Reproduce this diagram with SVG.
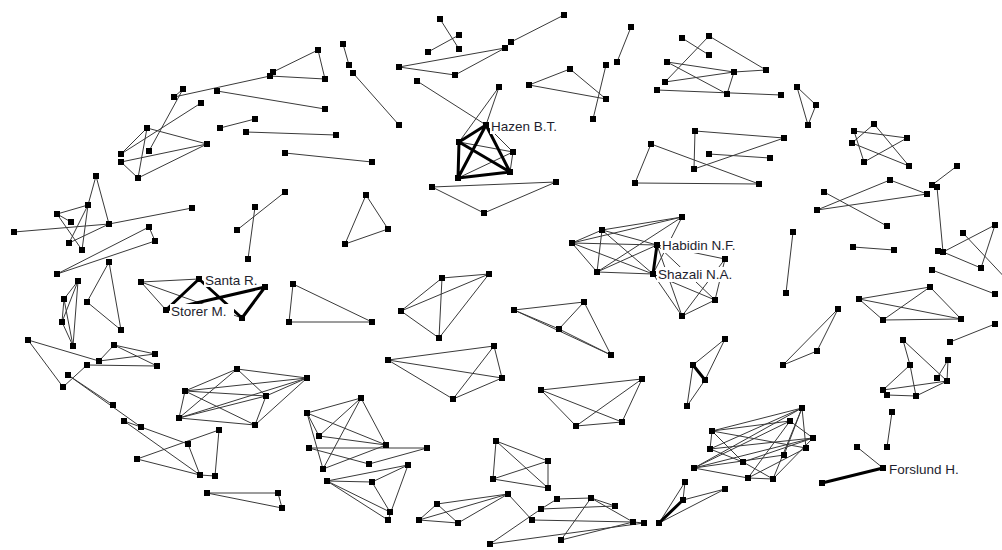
<svg xmlns="http://www.w3.org/2000/svg" width="1002" height="550" viewBox="0 0 1002 550">
<style>
.e{stroke:#3a3a3a;stroke-width:1;fill:none}
.t{stroke:#000;stroke-width:3;fill:none}
.n rect{fill:#000}
.n rect.lb{fill:#fff}
.tx{font-family:"Liberation Sans",Arial,sans-serif;font-size:13.5px;fill:#1e1e2e}
</style>
<rect width="1002" height="550" fill="#fff"/>
<g id="connectors">
<path class="e" d="M174 97L270 76M183 89L174 97M217 91L325 109M183 89L149 151M201 103L121 154M147 128L207 144M147 128L121 154M147 128L138 178M121 162L207 144M138 178L207 144M121 162L138 178M220 128L255 119M246 132L336 135"/>
<path class="e" d="M318 50L273 72M318 50L325 79M270 76L325 79M285 153L372 162M343 44L349 65M353 73L399 125M440 19L459 49M428 52L459 35M399 67L505 48M399 67L455 75M455 75L505 48M417 81L486 125M499 87L459 142M499 87L486 125M486 125L513 152M459 142L513 152M513 152L510 172M458 178L513 152"/>
<path class="e" d="M432 187L556 182M432 187L484 213M484 213L556 182M564 15L511 42M529 85L570 69M570 69L606 99M529 85L606 99M606 65L593 119M631 27L617 62M682 38L709 55M709 36L665 82M709 36L766 70M667 62L734 72M667 62L727 94M665 82L734 72M657 90L781 95M727 94L734 72M734 72L766 70M797 87L816 105M797 87L808 125M816 105L808 125M695 131L694 169M695 131L784 138M694 169L784 138M709 154L770 158M651 144L635 183M651 144L759 184M635 183L759 184"/>
<path class="e" d="M874 124L852 143M874 124L909 166M854 131L907 138M854 131L864 162M852 143L909 166M864 162L907 138M957 166L932 185M890 180L817 210M890 180L927 194M824 192L887 226M817 210L927 194M937 187L943 252M943 252L995 225M943 252L981 268M995 225L981 268M963 233L1010 283M793 232L786 293M853 247L894 250M932 270L995 294M859 299L930 287M859 299L961 319M883 320L930 287M883 320L961 319M859 299L883 320M930 287L961 319M838 309L817 351M838 309L783 365M817 351L783 365M995 324L950 342"/>
<path class="e" d="M903 340L910 365M903 340L947 381M948 360L937 378M910 365L883 390M910 365L916 396M883 390L947 381M887 395L916 396M916 396L947 381M948 360L947 381M892 412L887 447M857 447L883 468"/>
<path class="e" d="M712 431L802 408M712 431L790 421M712 431L743 462M712 431L806 448M710 449L802 408M710 449L813 438M710 449L743 462M694 468L802 408M694 468L790 421M694 468L813 438M694 468L784 455M694 468L748 478M743 462L813 438M743 462L773 479M748 478L806 448M748 478L790 421M773 479L802 408M773 479L813 438M784 455L802 408M806 448L802 408M790 421L813 438M712 431L710 449M748 478L773 479"/>
<path class="e" d="M96 176L88 205M96 176L109 224M57 214L88 205M57 214L82 250M88 205L69 243M88 205L82 250M14 232L109 224M109 224L192 208M109 224L69 243M57 214L71 222M149 227L155 241M149 227L57 274M155 241L57 274M109 262L87 302M109 262L121 330M87 302L121 330M78 281L64 299M78 281L62 322M78 281L73 346M64 299L73 346M62 322L73 346M64 299L62 322"/>
<path class="e" d="M141 282L199 279M141 282L166 310M141 282L242 318M237 230L285 192M255 207L248 259M28 340L99 361M28 340L63 387M114 345L155 354M114 345L157 366M114 345L99 361M99 361L155 354M87 365L157 366M63 387L87 365M68 375L141 427M68 375L113 405M141 427L188 444M124 421L200 475M124 421L141 427M137 459L219 430M137 459L200 475M188 444L200 475M219 430L215 476M200 475L215 476M207 493L278 493M207 493L282 508M278 493L282 508"/>
<path class="e" d="M237 369L185 391M237 369L179 418M237 369L307 378M237 369L266 396M185 391L307 378M185 391L266 396M185 391L179 418M179 418L307 378M179 418L266 396M179 418L255 425M266 396L307 378M266 396L255 425M255 425L307 378M185 391L255 425"/>
<path class="e" d="M366 195L388 229M366 195L345 244M345 244L388 229M293 284L289 322M293 284L372 322M289 322L372 322M442 278L489 274M442 278L401 311M442 278L439 338M489 274L401 311M489 274L439 338M401 311L439 338M388 360L494 346M388 360L453 399M388 360L502 378M494 346L453 399M453 399L502 378M494 346L502 378"/>
<path class="e" d="M307 413L361 398M307 413L386 445M307 413L323 469M307 413L319 436M361 398L319 436M361 398L386 445M361 398L323 469M319 436L386 445M309 448L427 448M309 448L369 464M369 464L427 448M386 445L323 469M327 481L408 465M327 481L372 482M327 481L390 512M327 481L388 520M372 482L408 465M372 482L390 512M408 465L388 520"/>
<path class="e" d="M496 441L493 479M496 441L548 461M496 441L548 488M493 479L548 461M493 479L548 488M548 461L548 488M541 390L642 379M541 390L622 422M541 390L576 426M576 426L622 422M576 426L642 379M622 422L642 379"/>
<path class="e" d="M437 504L419 520M437 504L458 523M419 520L458 523M437 504L508 494M419 520L508 494M458 523L508 494M490 544L541 509M541 509L557 499M541 509L615 506M557 499L591 498M532 520L633 522M591 498L633 522M591 498L561 540M561 540L633 522M490 544L644 523M633 522L644 523M508 494L532 520M591 498L615 506"/>
<path class="e" d="M602 230L682 217M572 243L682 217M602 230L657 245M602 230L653 274M602 230L597 272M572 243L602 230M572 243L657 245M572 243L653 274M572 243L597 272M597 272L653 274M597 272L657 245M597 272L682 217M653 274L682 217M657 245L682 316M657 245L715 300M653 274L682 316M653 274L715 300M725 259L715 300M725 259L682 316M725 259L657 245M682 316L715 300"/>
<path class="e" d="M514 310L584 302M514 310L559 329M514 310L611 355M584 302L559 329M584 302L611 355M559 329L611 355M725 339L693 365M725 339L705 380M705 380L687 406M693 365L687 406M659 523L685 482M683 500L725 489M659 523L725 489M685 482L683 500"/>
<path class="t" d="M459 142L486 125M459 142L458 178M459 142L510 172M458 178L486 125M486 125L510 172M458 178L510 172"/>
<path class="t" d="M199 279L166 310M199 279L242 318M242 318L265 287M166 310L265 287"/>
<path class="t" d="M657 245L653 274M693 365L705 380M659 523L683 500M822 483L883 468"/>
</g>
<g id="nodes" class="n">
<g id="n1"><rect x="180" y="86" width="6" height="6"/></g>
<g id="n2"><rect x="171" y="94" width="6" height="6"/></g>
<g id="n3"><rect x="214" y="88" width="6" height="6"/></g>
<g id="n4"><rect x="198" y="100" width="6" height="6"/></g>
<g id="n5"><rect x="217" y="125" width="6" height="6"/></g>
<g id="n6"><rect x="243" y="129" width="6" height="6"/></g>
<g id="n7"><rect x="144" y="125" width="6" height="6"/></g>
<g id="n8"><rect x="204" y="141" width="6" height="6"/></g>
<g id="n9"><rect x="146" y="148" width="6" height="6"/></g>
<g id="n10"><rect x="118" y="151" width="6" height="6"/></g>
<g id="n11"><rect x="118" y="159" width="6" height="6"/></g>
<g id="n12"><rect x="135" y="175" width="6" height="6"/></g>
<g id="n13"><rect x="93" y="173" width="6" height="6"/></g>
<g id="n14"><rect x="315" y="47" width="6" height="6"/></g>
<g id="n15"><rect x="270" y="69" width="6" height="6"/></g>
<g id="n16"><rect x="267" y="73" width="6" height="6"/></g>
<g id="n17"><rect x="322" y="76" width="6" height="6"/></g>
<g id="n18"><rect x="322" y="106" width="6" height="6"/></g>
<g id="n19"><rect x="252" y="116" width="6" height="6"/></g>
<g id="n20"><rect x="333" y="132" width="6" height="6"/></g>
<g id="n21"><rect x="282" y="150" width="6" height="6"/></g>
<g id="n22"><rect x="369" y="159" width="6" height="6"/></g>
<g id="n23"><rect x="340" y="41" width="6" height="6"/></g>
<g id="n24"><rect x="346" y="62" width="6" height="6"/></g>
<g id="n25"><rect x="350" y="70" width="6" height="6"/></g>
<g id="n26"><rect x="396" y="122" width="6" height="6"/></g>
<g id="n27"><rect x="437" y="16" width="6" height="6"/></g>
<g id="n28"><rect x="456" y="32" width="6" height="6"/></g>
<g id="n29"><rect x="456" y="46" width="6" height="6"/></g>
<g id="n30"><rect x="425" y="49" width="6" height="6"/></g>
<g id="n31"><rect x="396" y="64" width="6" height="6"/></g>
<g id="n32"><rect x="452" y="72" width="6" height="6"/></g>
<g id="n33"><rect x="414" y="78" width="6" height="6"/></g>
<g id="n34"><rect x="496" y="84" width="6" height="6"/></g>
<g id="n35"><rect x="456" y="139" width="6" height="6"/></g>
<g id="n36"><rect x="510" y="149" width="6" height="6"/></g>
<g id="n37"><rect x="455" y="175" width="6" height="6"/></g>
<g id="n38"><rect x="507" y="169" width="6" height="6"/></g>
<g id="n39"><rect x="561" y="12" width="6" height="6"/></g>
<g id="n40"><rect x="508" y="39" width="6" height="6"/></g>
<g id="n41"><rect x="502" y="45" width="6" height="6"/></g>
<g id="n42"><rect x="526" y="82" width="6" height="6"/></g>
<g id="n43"><rect x="567" y="66" width="6" height="6"/></g>
<g id="n44"><rect x="603" y="62" width="6" height="6"/></g>
<g id="n45"><rect x="603" y="96" width="6" height="6"/></g>
<g id="n46"><rect x="590" y="116" width="6" height="6"/></g>
<g id="n47"><rect x="628" y="24" width="6" height="6"/></g>
<g id="n48"><rect x="614" y="59" width="6" height="6"/></g>
<g id="n49"><rect x="679" y="35" width="6" height="6"/></g>
<g id="n50"><rect x="706" y="33" width="6" height="6"/></g>
<g id="n51"><rect x="706" y="52" width="6" height="6"/></g>
<g id="n52"><rect x="664" y="59" width="6" height="6"/></g>
<g id="n53"><rect x="662" y="79" width="6" height="6"/></g>
<g id="n54"><rect x="654" y="87" width="6" height="6"/></g>
<g id="n55"><rect x="731" y="69" width="6" height="6"/></g>
<g id="n56"><rect x="724" y="91" width="6" height="6"/></g>
<g id="n57"><rect x="553" y="179" width="6" height="6"/></g>
<g id="n58"><rect x="692" y="128" width="6" height="6"/></g>
<g id="n59"><rect x="648" y="141" width="6" height="6"/></g>
<g id="n60"><rect x="706" y="151" width="6" height="6"/></g>
<g id="n61"><rect x="691" y="166" width="6" height="6"/></g>
<g id="n62"><rect x="632" y="180" width="6" height="6"/></g>
<g id="n63"><rect x="763" y="67" width="6" height="6"/></g>
<g id="n64"><rect x="778" y="92" width="6" height="6"/></g>
<g id="n65"><rect x="794" y="84" width="6" height="6"/></g>
<g id="n66"><rect x="813" y="102" width="6" height="6"/></g>
<g id="n67"><rect x="805" y="122" width="6" height="6"/></g>
<g id="n68"><rect x="781" y="135" width="6" height="6"/></g>
<g id="n69"><rect x="767" y="155" width="6" height="6"/></g>
<g id="n70"><rect x="871" y="121" width="6" height="6"/></g>
<g id="n71"><rect x="851" y="128" width="6" height="6"/></g>
<g id="n72"><rect x="849" y="140" width="6" height="6"/></g>
<g id="n73"><rect x="904" y="135" width="6" height="6"/></g>
<g id="n74"><rect x="906" y="163" width="6" height="6"/></g>
<g id="n75"><rect x="861" y="159" width="6" height="6"/></g>
<g id="n76"><rect x="954" y="163" width="6" height="6"/></g>
<g id="n77"><rect x="887" y="177" width="6" height="6"/></g>
<g id="n78"><rect x="929" y="182" width="6" height="6"/></g>
<g id="n79"><rect x="756" y="181" width="6" height="6"/></g>
<g id="n80"><rect x="821" y="189" width="6" height="6"/></g>
<g id="n81"><rect x="814" y="207" width="6" height="6"/></g>
<g id="n82"><rect x="924" y="191" width="6" height="6"/></g>
<g id="n83"><rect x="884" y="223" width="6" height="6"/></g>
<g id="n84"><rect x="934" y="184" width="6" height="6"/></g>
<g id="n85"><rect x="790" y="229" width="6" height="6"/></g>
<g id="n86"><rect x="783" y="290" width="6" height="6"/></g>
<g id="n87"><rect x="850" y="244" width="6" height="6"/></g>
<g id="n88"><rect x="891" y="247" width="6" height="6"/></g>
<g id="n89"><rect x="935" y="248" width="6" height="6"/></g>
<g id="n90"><rect x="940" y="249" width="6" height="6"/></g>
<g id="n91"><rect x="960" y="230" width="6" height="6"/></g>
<g id="n92"><rect x="992" y="222" width="6" height="6"/></g>
<g id="n93"><rect x="978" y="265" width="6" height="6"/></g>
<g id="n94"><rect x="929" y="267" width="6" height="6"/></g>
<g id="n95"><rect x="992" y="291" width="6" height="6"/></g>
<g id="n96"><rect x="927" y="284" width="6" height="6"/></g>
<g id="n97"><rect x="856" y="296" width="6" height="6"/></g>
<g id="n98"><rect x="880" y="317" width="6" height="6"/></g>
<g id="n99"><rect x="958" y="316" width="6" height="6"/></g>
<g id="n100"><rect x="835" y="306" width="6" height="6"/></g>
<g id="n101"><rect x="814" y="348" width="6" height="6"/></g>
<g id="n102"><rect x="780" y="362" width="6" height="6"/></g>
<g id="n103"><rect x="992" y="321" width="6" height="6"/></g>
<g id="n104"><rect x="947" y="339" width="6" height="6"/></g>
<g id="n105"><rect x="900" y="337" width="6" height="6"/></g>
<g id="n106"><rect x="907" y="362" width="6" height="6"/></g>
<g id="n107"><rect x="945" y="357" width="6" height="6"/></g>
<g id="n108"><rect x="934" y="375" width="6" height="6"/></g>
<g id="n109"><rect x="944" y="378" width="6" height="6"/></g>
<g id="n110"><rect x="880" y="387" width="6" height="6"/></g>
<g id="n111"><rect x="884" y="392" width="6" height="6"/></g>
<g id="n112"><rect x="913" y="393" width="6" height="6"/></g>
<g id="n113"><rect x="889" y="409" width="6" height="6"/></g>
<g id="n114"><rect x="884" y="444" width="6" height="6"/></g>
<g id="n115"><rect x="854" y="444" width="6" height="6"/></g>
<g id="n117"><rect x="819" y="480" width="6" height="6"/></g>
<g id="n118"><rect x="799" y="405" width="6" height="6"/></g>
<g id="n119"><rect x="787" y="418" width="6" height="6"/></g>
<g id="n120"><rect x="810" y="435" width="6" height="6"/></g>
<g id="n121"><rect x="803" y="445" width="6" height="6"/></g>
<g id="n122"><rect x="781" y="452" width="6" height="6"/></g>
<g id="n123"><rect x="770" y="476" width="6" height="6"/></g>
<g id="n124"><rect x="745" y="475" width="6" height="6"/></g>
<g id="n125"><rect x="709" y="428" width="6" height="6"/></g>
<g id="n126"><rect x="707" y="446" width="6" height="6"/></g>
<g id="n127"><rect x="691" y="465" width="6" height="6"/></g>
<g id="n128"><rect x="740" y="459" width="6" height="6"/></g>
<g id="n129"><rect x="85" y="202" width="6" height="6"/></g>
<g id="n130"><rect x="54" y="211" width="6" height="6"/></g>
<g id="n131"><rect x="68" y="219" width="6" height="6"/></g>
<g id="n132"><rect x="106" y="221" width="6" height="6"/></g>
<g id="n133"><rect x="11" y="229" width="6" height="6"/></g>
<g id="n134"><rect x="66" y="240" width="6" height="6"/></g>
<g id="n135"><rect x="79" y="247" width="6" height="6"/></g>
<g id="n136"><rect x="189" y="205" width="6" height="6"/></g>
<g id="n137"><rect x="146" y="224" width="6" height="6"/></g>
<g id="n138"><rect x="152" y="238" width="6" height="6"/></g>
<g id="n139"><rect x="106" y="259" width="6" height="6"/></g>
<g id="n140"><rect x="54" y="271" width="6" height="6"/></g>
<g id="n141"><rect x="75" y="278" width="6" height="6"/></g>
<g id="n142"><rect x="61" y="296" width="6" height="6"/></g>
<g id="n143"><rect x="59" y="319" width="6" height="6"/></g>
<g id="n144"><rect x="70" y="343" width="6" height="6"/></g>
<g id="n145"><rect x="84" y="299" width="6" height="6"/></g>
<g id="n146"><rect x="118" y="327" width="6" height="6"/></g>
<g id="n147"><rect x="138" y="279" width="6" height="6"/></g>
<g id="n150"><rect x="239" y="315" width="6" height="6"/></g>
<g id="n151"><rect x="234" y="227" width="6" height="6"/></g>
<g id="n152"><rect x="245" y="256" width="6" height="6"/></g>
<g id="n153"><rect x="25" y="337" width="6" height="6"/></g>
<g id="n154"><rect x="111" y="342" width="6" height="6"/></g>
<g id="n155"><rect x="152" y="351" width="6" height="6"/></g>
<g id="n156"><rect x="96" y="358" width="6" height="6"/></g>
<g id="n157"><rect x="84" y="362" width="6" height="6"/></g>
<g id="n158"><rect x="154" y="363" width="6" height="6"/></g>
<g id="n159"><rect x="282" y="189" width="6" height="6"/></g>
<g id="n160"><rect x="252" y="204" width="6" height="6"/></g>
<g id="n161"><rect x="363" y="192" width="6" height="6"/></g>
<g id="n162"><rect x="385" y="226" width="6" height="6"/></g>
<g id="n163"><rect x="342" y="241" width="6" height="6"/></g>
<g id="n164"><rect x="290" y="281" width="6" height="6"/></g>
<g id="n165"><rect x="286" y="319" width="6" height="6"/></g>
<g id="n166"><rect x="369" y="319" width="6" height="6"/></g>
<g id="n167"><rect x="439" y="275" width="6" height="6"/></g>
<g id="n168"><rect x="486" y="271" width="6" height="6"/></g>
<g id="n169"><rect x="398" y="308" width="6" height="6"/></g>
<g id="n170"><rect x="436" y="335" width="6" height="6"/></g>
<g id="n171"><rect x="429" y="184" width="6" height="6"/></g>
<g id="n172"><rect x="481" y="210" width="6" height="6"/></g>
<g id="n173"><rect x="491" y="343" width="6" height="6"/></g>
<g id="n174"><rect x="385" y="357" width="6" height="6"/></g>
<g id="n175"><rect x="262" y="284" width="6" height="6"/></g>
<g id="n176"><rect x="679" y="214" width="6" height="6"/></g>
<g id="n177"><rect x="599" y="227" width="6" height="6"/></g>
<g id="n178"><rect x="569" y="240" width="6" height="6"/></g>
<g id="n180"><rect x="722" y="256" width="6" height="6"/></g>
<g id="n181"><rect x="594" y="269" width="6" height="6"/></g>
<g id="n183"><rect x="712" y="297" width="6" height="6"/></g>
<g id="n184"><rect x="679" y="313" width="6" height="6"/></g>
<g id="n185"><rect x="511" y="307" width="6" height="6"/></g>
<g id="n186"><rect x="581" y="299" width="6" height="6"/></g>
<g id="n187"><rect x="556" y="326" width="6" height="6"/></g>
<g id="n188"><rect x="608" y="352" width="6" height="6"/></g>
<g id="n189"><rect x="722" y="336" width="6" height="6"/></g>
<g id="n190"><rect x="690" y="362" width="6" height="6"/></g>
<g id="n191"><rect x="65" y="372" width="6" height="6"/></g>
<g id="n192"><rect x="60" y="384" width="6" height="6"/></g>
<g id="n193"><rect x="110" y="402" width="6" height="6"/></g>
<g id="n194"><rect x="121" y="418" width="6" height="6"/></g>
<g id="n195"><rect x="138" y="424" width="6" height="6"/></g>
<g id="n196"><rect x="185" y="441" width="6" height="6"/></g>
<g id="n197"><rect x="216" y="427" width="6" height="6"/></g>
<g id="n198"><rect x="134" y="456" width="6" height="6"/></g>
<g id="n199"><rect x="197" y="472" width="6" height="6"/></g>
<g id="n200"><rect x="212" y="473" width="6" height="6"/></g>
<g id="n201"><rect x="204" y="490" width="6" height="6"/></g>
<g id="n202"><rect x="234" y="366" width="6" height="6"/></g>
<g id="n203"><rect x="182" y="388" width="6" height="6"/></g>
<g id="n204"><rect x="176" y="415" width="6" height="6"/></g>
<g id="n205"><rect x="304" y="375" width="6" height="6"/></g>
<g id="n206"><rect x="263" y="393" width="6" height="6"/></g>
<g id="n207"><rect x="252" y="422" width="6" height="6"/></g>
<g id="n208"><rect x="358" y="395" width="6" height="6"/></g>
<g id="n209"><rect x="304" y="410" width="6" height="6"/></g>
<g id="n210"><rect x="316" y="433" width="6" height="6"/></g>
<g id="n211"><rect x="383" y="442" width="6" height="6"/></g>
<g id="n212"><rect x="306" y="445" width="6" height="6"/></g>
<g id="n213"><rect x="424" y="445" width="6" height="6"/></g>
<g id="n214"><rect x="366" y="461" width="6" height="6"/></g>
<g id="n215"><rect x="405" y="462" width="6" height="6"/></g>
<g id="n216"><rect x="320" y="466" width="6" height="6"/></g>
<g id="n217"><rect x="324" y="478" width="6" height="6"/></g>
<g id="n218"><rect x="369" y="479" width="6" height="6"/></g>
<g id="n219"><rect x="387" y="509" width="6" height="6"/></g>
<g id="n220"><rect x="385" y="517" width="6" height="6"/></g>
<g id="n221"><rect x="450" y="396" width="6" height="6"/></g>
<g id="n222"><rect x="499" y="375" width="6" height="6"/></g>
<g id="n223"><rect x="493" y="438" width="6" height="6"/></g>
<g id="n224"><rect x="490" y="476" width="6" height="6"/></g>
<g id="n225"><rect x="434" y="501" width="6" height="6"/></g>
<g id="n226"><rect x="416" y="517" width="6" height="6"/></g>
<g id="n227"><rect x="455" y="520" width="6" height="6"/></g>
<g id="n228"><rect x="487" y="541" width="6" height="6"/></g>
<g id="n229"><rect x="275" y="490" width="6" height="6"/></g>
<g id="n230"><rect x="279" y="505" width="6" height="6"/></g>
<g id="n231"><rect x="538" y="387" width="6" height="6"/></g>
<g id="n232"><rect x="639" y="376" width="6" height="6"/></g>
<g id="n233"><rect x="573" y="423" width="6" height="6"/></g>
<g id="n234"><rect x="619" y="419" width="6" height="6"/></g>
<g id="n235"><rect x="545" y="458" width="6" height="6"/></g>
<g id="n236"><rect x="545" y="485" width="6" height="6"/></g>
<g id="n237"><rect x="505" y="491" width="6" height="6"/></g>
<g id="n238"><rect x="554" y="496" width="6" height="6"/></g>
<g id="n239"><rect x="588" y="495" width="6" height="6"/></g>
<g id="n240"><rect x="612" y="503" width="6" height="6"/></g>
<g id="n241"><rect x="538" y="506" width="6" height="6"/></g>
<g id="n242"><rect x="529" y="517" width="6" height="6"/></g>
<g id="n243"><rect x="630" y="519" width="6" height="6"/></g>
<g id="n244"><rect x="641" y="520" width="6" height="6"/></g>
<g id="n245"><rect x="558" y="537" width="6" height="6"/></g>
<g id="n246"><rect x="702" y="377" width="6" height="6"/></g>
<g id="n247"><rect x="684" y="403" width="6" height="6"/></g>
<g id="n248"><rect x="682" y="479" width="6" height="6"/></g>
<g id="n249"><rect x="680" y="497" width="6" height="6"/></g>
<g id="n250"><rect x="722" y="486" width="6" height="6"/></g>
<g id="n251"><rect x="656" y="520" width="6" height="6"/></g>
</g>
<g id="labels">
<g id="n_hazen" class="n"><rect x="483" y="122" width="6" height="6"/><rect class="lb" x="490" y="119" width="68" height="15"/><text class="tx" x="491" y="131">Hazen B.T.</text></g>
<g id="n_santa" class="n"><rect x="196" y="276" width="6" height="6"/><rect class="lb" x="204" y="272" width="54" height="15"/><text class="tx" x="205" y="285">Santa R.</text></g>
<g id="n_storer" class="n"><rect x="163" y="307" width="6" height="6"/><rect class="lb" x="170" y="304" width="64" height="15"/><text class="tx" x="171" y="316">Storer M.</text></g>
<g id="n_habidin" class="n"><rect x="654" y="242" width="6" height="6"/><rect class="lb" x="661" y="238" width="78" height="15"/><text class="tx" x="662" y="250">Habidin N.F.</text></g>
<g id="n_shazali" class="n"><rect x="650" y="271" width="6" height="6"/><rect class="lb" x="657" y="267" width="76" height="15"/><text class="tx" x="658" y="279">Shazali N.A.</text></g>
<g id="n_forslund" class="n"><rect x="880" y="465" width="6" height="6"/><rect class="lb" x="888" y="461" width="74" height="15"/><text class="tx" x="889" y="474">Forslund H.</text></g>
</g>
</svg>
